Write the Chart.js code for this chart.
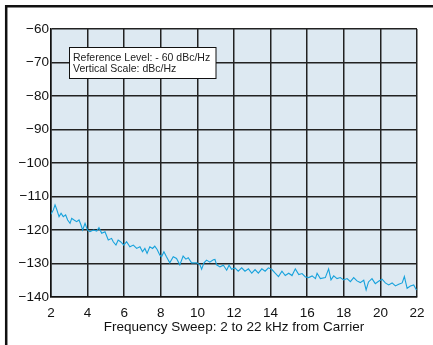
<!DOCTYPE html>
<html>
<head>
<meta charset="utf-8">
<script src="https://cdn.jsdelivr.net/npm/chart.js@4/dist/chart.umd.min.js"></script>
<style>
  html, body { margin: 0; padding: 0; background: #fff; }
  #wrap { width: 433px; height: 345px; }
</style>
</head>
<body>
<div id="wrap"><canvas id="grafico"></canvas></div>
<script>
// dados (kHz, dBc/Hz)
const freqKHz = [2.0, 2.13, 2.22, 2.31, 2.44, 2.55, 2.67, 2.8, 2.91, 3.04, 3.13, 3.26, 3.4, 3.53, 3.64, 3.73, 3.86, 3.99,
  4.13, 4.32, 4.5, 4.62, 4.77, 4.95, 5.13, 5.31, 5.4, 5.55, 5.67, 5.8, 5.98, 6.13, 6.31, 6.5, 6.68, 6.86, 7.0, 7.13,
  7.25, 7.4, 7.55, 7.67, 7.8, 7.95, 8.04, 8.17, 8.31, 8.49, 8.68, 8.86, 9.04, 9.22, 9.37, 9.5, 9.68, 9.96, 10.14,
  10.23, 10.36, 10.5, 10.68, 10.87, 10.96, 11.05, 11.23, 11.42, 11.6, 11.73, 11.87, 12.05, 12.23, 12.42, 12.6, 12.79,
  12.97, 13.15, 13.33, 13.52, 13.7, 13.88, 14.07, 14.25, 14.43, 14.62, 14.8, 14.99, 15.17, 15.35, 15.54, 15.72, 15.9,
  16.08, 16.27, 16.45, 16.54, 16.72, 16.99, 17.17, 17.3, 17.45, 17.63, 17.81, 17.99, 18.18, 18.36, 18.54, 18.72, 18.9,
  19.09, 19.22, 19.35, 19.54, 19.72, 19.9, 20.09, 20.27, 20.45, 20.64, 20.82, 21.0, 21.19, 21.31, 21.46, 21.64, 21.82, 21.97];
const levelDbc = [-115.3, -114.0, -112.5, -113.8, -116.0, -115.0, -116.0, -115.5, -117.0, -118.0, -116.5, -117.0, -117.5, -117.0, -118.5, -120.0, -118.0, -120.0,
  -120.5, -120.0, -120.3, -119.3, -121.0, -120.5, -123.0, -122.5, -123.5, -124.5, -123.0, -123.5, -124.5, -123.5, -125.0, -124.5, -125.5, -125.0, -126.5, -125.5,
  -127.0, -125.0, -125.5, -124.8, -125.8, -127.5, -128.0, -126.5, -128.0, -129.8, -128.0, -128.5, -130.4, -127.8, -128.7, -128.3, -129.8, -129.8, -130.4,
  -131.7, -129.8, -129.0, -129.6, -128.9, -128.8, -130.4, -131.0, -130.5, -132.0, -130.5, -131.7, -131.3, -132.3, -131.3, -132.3, -131.6,
  -132.9, -131.8, -132.9, -131.6, -132.3, -131.3, -131.8, -132.9, -133.9, -132.3, -133.6, -132.9, -133.6, -131.6, -133.3, -133.0, -134.0,
  -134.2, -133.7, -134.5, -132.9, -134.5, -134.2, -131.6, -134.9, -133.7, -134.5, -134.2, -134.9, -134.5, -135.4, -134.2, -135.2, -135.7,
  -135.0, -137.9, -135.5, -134.5, -136.0, -135.3, -134.7, -135.8, -136.4, -135.8, -136.7, -136.2, -135.8, -133.9, -137.4, -136.7, -136.4, -137.9];
const xTicks = [2, 4, 6, 8, 10, 12, 14, 16, 18, 20, 22];
const yTicks = [-140, -130, -120, -110, -100, -90, -80, -70, -60];
const tituloX = 'Frequency Sweep: 2 to 22 kHz from Carrier';
const notas = ['Reference Level: - 60 dBc/Hz', 'Vertical Scale: dBc/Hz'];

const fonte = "'Liberation Sans', Arial, sans-serif";

// fundo azul da área do gráfico + moldura
const fundoPlugin = {
  id: 'fundo',
  beforeDraw(chart) {
    const { ctx, chartArea: a } = chart;
    ctx.save();
    ctx.fillStyle = '#dde9f2';
    ctx.fillRect(a.left, a.top, a.right - a.left, a.bottom - a.top);
    ctx.restore();
  },
  afterDraw(chart) {
    const ctx = chart.ctx;
    ctx.save();
    // moldura externa (só topo e esquerda)
    ctx.strokeStyle = '#111';
    ctx.lineWidth = 2.5;
    ctx.beginPath();
    ctx.moveTo(6.2, 345);
    ctx.lineTo(6.2, 6.2);
    ctx.lineTo(433, 6.2);
    ctx.stroke();
    // caixa de texto
    ctx.fillStyle = '#fff';
    ctx.fillRect(69.5, 47.5, 146.5, 31);
    ctx.strokeStyle = '#111';
    ctx.lineWidth = 1;
    ctx.strokeRect(69.5, 47.5, 146.5, 31);
    ctx.fillStyle = '#222';
    ctx.font = '10.5px ' + fonte;
    ctx.textBaseline = 'middle';
    ctx.fillText(notas[0], 73, 57.8);
    ctx.fillText(notas[1], 73, 69.2);
    ctx.restore();
  }
};

const ctx = document.getElementById('grafico').getContext('2d');
new Chart(ctx, {
  type: 'line',
  data: {
    datasets: [{
      data: freqKHz.map((f, i) => ({ x: f, y: levelDbc[i] })),
      borderColor: '#17a2dc',
      borderWidth: 1.1,
      pointRadius: 0,
      tension: 0,
      fill: false
    }]
  },
  options: {
    responsive: true,
    maintainAspectRatio: false,
    animation: false,
    layout: { padding: { left: 0, top: 29, right: 16, bottom: 0 } },
    plugins: { legend: { display: false }, tooltip: { enabled: false } },
    scales: {
      x: {
        type: 'linear',
        min: 2, max: 22,
        afterBuildTicks: (s) => { s.ticks = xTicks.map(v => ({ value: v })); },
        afterFit: (s) => { s.height = 48; },
        grid: { color: '#222', lineWidth: 1.5, drawTicks: false },
        border: { color: '#111', width: 1.5 },
        ticks: { color: '#111', font: { family: fonte, size: 13.5 }, padding: 8, maxRotation: 0 },
        title: { display: true, text: tituloX, color: '#111', font: { family: fonte, size: 13.5 }, padding: { top: 0, bottom: 10 } }
      },
      y: {
        min: -140, max: -60,
        afterBuildTicks: (s) => { s.ticks = yTicks.map(v => ({ value: v })); },
        afterFit: (s) => { s.width = 51; },
        grid: { color: '#222', lineWidth: 1.5, drawTicks: false },
        border: { color: '#111', width: 1.5 },
        ticks: {
          color: '#111', font: { family: fonte, size: 13.5 }, padding: 2,
          callback: (v) => String(v).replace('-', '\u2212')
        }
      }
    }
  },
  plugins: [fundoPlugin]
});
</script>
</body>
</html>
